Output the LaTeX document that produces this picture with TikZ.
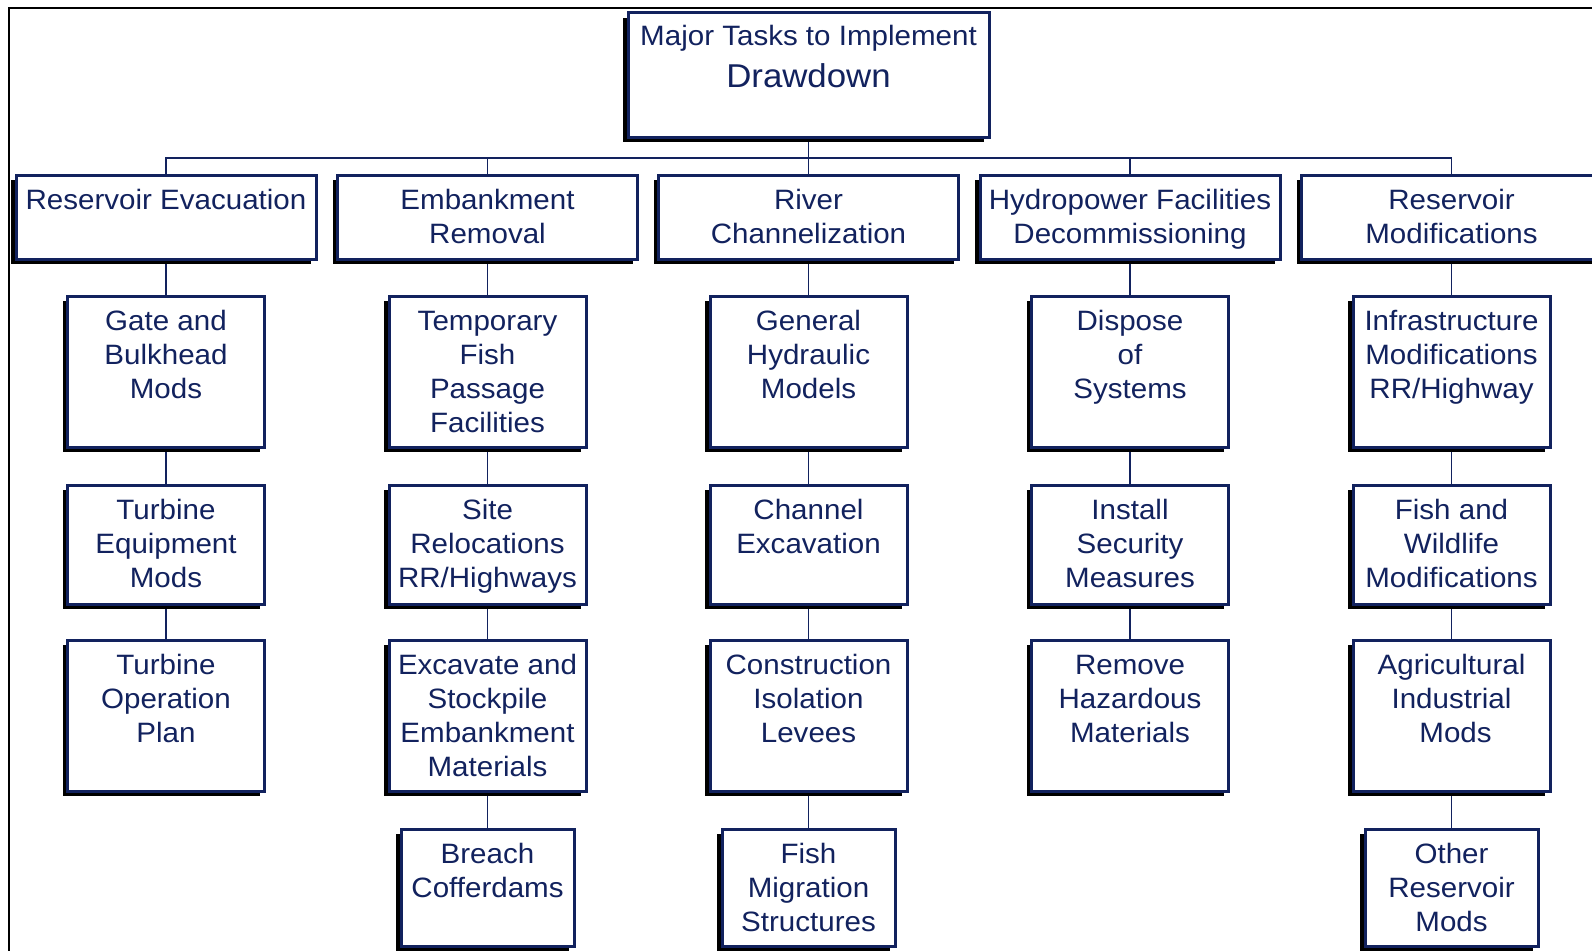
\documentclass[tikz,border=0pt]{standalone}
\usepackage{fontspec}
\setmainfont{Liberation Sans}[FakeStretch=1.055]
\usetikzlibrary{shadows,backgrounds}
\definecolor{navy}{RGB}{18,34,94}
\tikzset{
  tbox/.style={draw=navy, line width=3pt, fill=white, inner sep=0pt, outer sep=0pt,
    drop shadow={shadow xshift=-5pt, shadow yshift=-5pt, fill=black, opacity=1}},
  tlabel/.style={text=navy, align=center, inner sep=0pt, font=\fontsize{28}{34}\selectfont},
  conn/.style={draw=navy, line width=1.8pt},
}
\newcommand\tbx[6]{%
  \node[tbox, minimum width=#4pt, minimum height=#5pt, anchor=north] (#1) at (#2,#3) {};
  \node[tlabel, anchor=north] (#1-t) at ([yshift=-4.5pt]#1.north) {\rule{0pt}{30pt}#6};
}
\begin{document}
\begin{tikzpicture}[x=1pt,y=-1pt]
\useasboundingbox (0,0) rectangle (1592,950);
\clip (0,0) rectangle (1592,950);
% frame
\draw[black, line width=2.5pt] (1600,8) -- (9,8) -- (9,960);
% top node
\node[tbox, minimum width=361pt, minimum height=124pt, anchor=north] (top) at (808.5,13) {};
\node[tlabel, anchor=base] (top-t1) at (808.5,46) {Major Tasks to Implement};
\node[tlabel, anchor=base, font=\fontsize{33}{40}\selectfont] (top-t2) at (808.5,87.3) {Drawdown};
% level 1
\tbx{re}{166}{175}{300}{84}{Reservoir Evacuation}
\tbx{er}{487.5}{175}{300}{84}{Embankment\\Removal}
\tbx{rc}{808.5}{175}{300}{84}{River\\Channelization}
\tbx{hf}{1130}{175}{300}{84}{Hydropower Facilities\\Decommissioning}
\tbx{rm}{1451.5}{175}{300}{84}{Reservoir\\Modifications}
% column 1
\tbx{re2}{166}{296}{197}{151}{Gate and\\Bulkhead\\Mods}
\tbx{re3}{166}{485}{197}{119}{Turbine\\Equipment\\Mods}
\tbx{re4}{166}{640}{197}{151}{Turbine\\Operation\\Plan}
% column 2
\tbx{er2}{487.5}{296}{197}{151}{Temporary\\Fish\\Passage\\Facilities}
\tbx{er3}{487.5}{485}{197}{119}{Site\\Relocations\\RR/Highways}
\tbx{er4}{487.5}{640}{197}{151}{Excavate and\\Stockpile\\Embankment\\Materials}
\tbx{er5}{487.5}{829}{173}{117}{Breach\\Cofferdams}
% column 3
\tbx{rc2}{808.5}{296}{197}{151}{General\\Hydraulic\\Models}
\tbx{rc3}{808.5}{485}{197}{119}{Channel\\Excavation}
\tbx{rc4}{808.5}{640}{197}{151}{Construction\\Isolation\\Levees}
\tbx{rc5}{808.5}{829}{173}{117}{Fish\\Migration\\Structures}
% column 4
\tbx{hf2}{1130}{296}{197}{151}{Dispose\\of\\Systems}
\tbx{hf3}{1130}{485}{197}{119}{Install\\Security\\Measures}
\tbx{hf4}{1130}{640}{197}{151}{Remove\\Hazardous\\Materials}
% column 5
\tbx{rm2}{1451.5}{296}{197}{151}{Infrastructure\\Modifications\\RR/Highway}
\tbx{rm3}{1451.5}{485}{197}{119}{Fish and\\Wildlife\\Modifications}
\tbx{rm4}{1451.5}{640}{197}{151}{Agricultural\\Industrial\\\hspace*{8pt}Mods}
\tbx{rm5}{1451.5}{829}{173}{117}{Other\\Reservoir\\Mods}
% connectors
\begin{scope}[on background layer]
\fill[white] (0,0) rectangle (1592,950);
\coordinate (hub) at (808.5,158);
\draw[conn] (top.south) -- (hub);
\draw[conn] (re.north) -- (re.north |- hub) -- (rm.north |- hub) -- (rm.north);
\draw[conn] (er.north) -- (er.north |- hub);
\draw[conn] (rc.north) -- (rc.north |- hub);
\draw[conn] (hf.north) -- (hf.north |- hub);
\draw[conn] (re.south) -- (re2.north);
\draw[conn] (re2.south) -- (re3.north);
\draw[conn] (re3.south) -- (re4.north);
\draw[conn] (er.south) -- (er2.north);
\draw[conn] (er2.south) -- (er3.north);
\draw[conn] (er3.south) -- (er4.north);
\draw[conn] (er4.south) -- (er5.north);
\draw[conn] (rc.south) -- (rc2.north);
\draw[conn] (rc2.south) -- (rc3.north);
\draw[conn] (rc3.south) -- (rc4.north);
\draw[conn] (rc4.south) -- (rc5.north);
\draw[conn] (hf.south) -- (hf2.north);
\draw[conn] (hf2.south) -- (hf3.north);
\draw[conn] (hf3.south) -- (hf4.north);
\draw[conn] (rm.south) -- (rm2.north);
\draw[conn] (rm2.south) -- (rm3.north);
\draw[conn] (rm3.south) -- (rm4.north);
\draw[conn] (rm4.south) -- (rm5.north);
\end{scope}
\end{tikzpicture}
\end{document}
